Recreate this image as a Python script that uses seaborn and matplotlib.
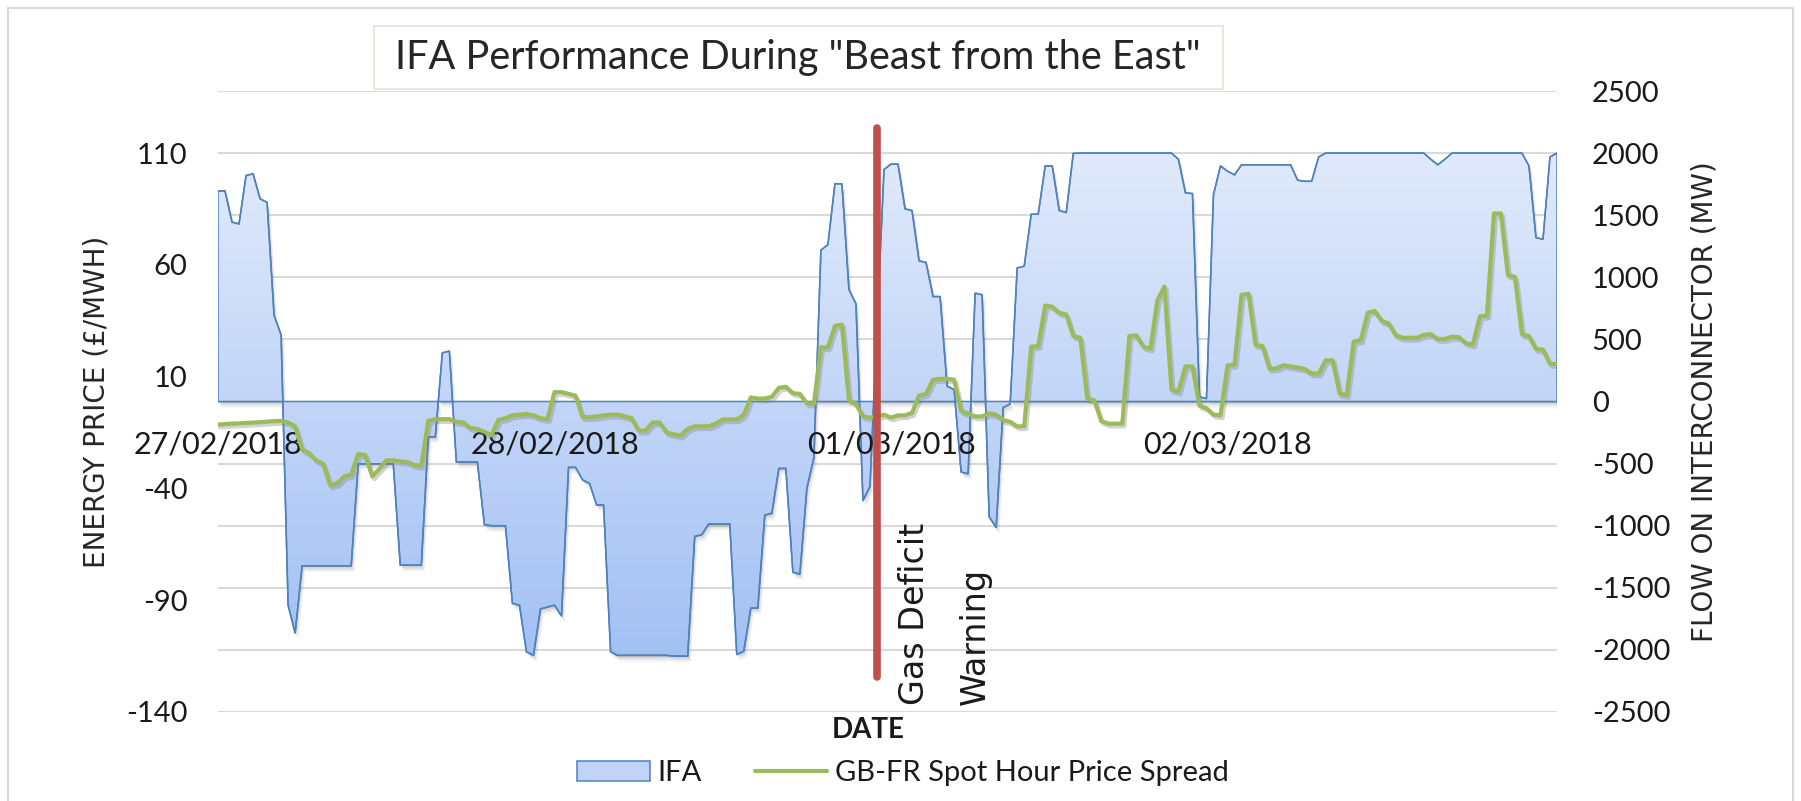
import numpy as np
import pandas as pd
import matplotlib
matplotlib.use("Agg")
import matplotlib.pyplot as plt
import matplotlib.patheffects as pe
import matplotlib.transforms as mtransforms
from matplotlib.colors import LinearSegmentedColormap
from matplotlib.patches import Polygon, Rectangle, Patch
from matplotlib.lines import Line2D
import seaborn as sns

# half-hourly readings, 27/02/2018 00:00 -> 02/03/2018 23:30
ifa_mw = [
    1695, 1695, 1444, 1430, 1819, 1834, 1632, 1603,
    695, 536, -1640, -1865, -1323, -1323, -1323, -1323,
    -1323, -1323, -1323, -1323, -502, -502, -502, -502,
    -502, -502, -1318, -1318, -1318, -1318, -285, -285,
    392, 406, -487, -487, -487, -487, -992, -1000,
    -1000, -1000, -1626, -1640, -2015, -2044, -1670, -1655,
    -1640, -1727, -530, -530, -631, -660, -833, -833,
    -2015, -2044, -2044, -2044, -2044, -2044, -2044, -2044,
    -2044, -2050, -2050, -2050, -1087, -1072, -986, -986,
    -986, -986, -2038, -2010, -1663, -1663, -914, -900,
    -539, -539, -1375, -1390, -698, -453, 1219, 1263,
    1753, 1753, 902, 787, -799, -683, 600, 1868,
    1911, 1911, 1551, 1537, 1133, 1119, 845, 845,
    124, 95, -568, -582, 873, 859, -928, -1015,
    -49, -20, 1075, 1090, 1508, 1508, 1897, 1897,
    1537, 1522, 1998, 2000, 2000, 2000, 2000, 2000,
    2000, 2000, 2000, 2000, 2000, 2000, 2000, 2000,
    2000, 1950, 1680, 1674, 37, 23, 1666, 1897,
    1854, 1825, 1906, 1906, 1906, 1906, 1906, 1906,
    1906, 1906, 1782, 1773, 1773, 1969, 2000, 2000,
    2000, 2000, 2000, 2000, 2000, 2000, 2000, 2000,
    2000, 2000, 2000, 2000, 2000, 1950, 1906, 1950,
    2000, 2000, 2000, 2000, 2000, 2000, 2000, 2000,
    2000, 2000, 2000, 1897, 1320, 1306, 1969, 2000,
]

price_spread = [
    -11.4, -11.2, -11.0, -10.9, -10.7, -10.5, -10.4, -10.1,
    -9.9, -9.8, -10.5, -12.2, -22.6, -24.2, -27.4, -29.0,
    -38.6, -37.8, -34.6, -33.8, -24.6, -25.0, -34.6, -31.4,
    -27.4, -27.4, -27.9, -28.2, -29.5, -29.8, -9.8, -9.0,
    -9.0, -9.0, -10.2, -10.5, -13.0, -13.4, -14.6, -16.2,
    -9.3, -8.6, -7.3, -7.0, -6.7, -7.3, -8.6, -9.0,
    3.1, 3.1, 2.3, 1.5, -8.1, -8.1, -7.8, -7.3,
    -7.0, -7.0, -7.7, -8.6, -14.1, -14.1, -10.5, -10.5,
    -15.0, -15.8, -16.3, -13.4, -12.2, -12.2, -12.2, -11.0,
    -9.1, -9.1, -9.1, -7.0, 0.7, 0.2, 0.2, 1.0,
    5.0, 5.5, 2.6, 2.3, -1.9, -2.2, 23.1, 23.1,
    32.7, 33.3, -0.6, -2.2, -7.8, -8.3, -7.8, -7.0,
    -8.3, -7.3, -7.3, -6.2, 1.6, 2.3, 8.7, 9.0,
    9.0, 8.7, -5.4, -6.5, -7.8, -7.8, -6.4, -7.0,
    -9.4, -10.2, -12.2, -12.2, 23.4, 23.7, 41.8, 41.3,
    38.6, 37.8, 28.2, 27.4, 0.2, -0.6, -9.9, -11.0,
    -11.0, -11.0, 28.2, 28.5, 23.4, 22.6, 44.2, 50.3,
    4.2, 3.4, 14.6, 14.6, -3.0, -4.1, -7.0, -7.3,
    15.1, 15.4, 46.6, 47.1, 24.2, 23.7, 13.5, 13.8,
    15.1, 14.6, 14.1, 13.5, 11.4, 11.4, 17.3, 17.3,
    2.3, 1.8, 25.7, 26.3, 38.6, 39.4, 34.9, 33.8,
    28.5, 27.4, 27.4, 27.4, 28.7, 29.0, 26.9, 26.9,
    27.9, 27.7, 25.0, 24.4, 37.0, 37.3, 83.0, 83.0,
    55.4, 54.6, 29.0, 28.2, 22.4, 22.1, 15.7, 15.7,
]

date_labels = ["27/02/2018", "28/02/2018", "01/03/2018", "02/03/2018"]
date_steps = [0, 48, 96, 144]
price_ticks = [-140, -90, -40, 10, 60, 110]
flow_ticks = list(range(-2500, 2501, 500))
warning_step = 94

df = pd.DataFrame({"step": np.arange(len(ifa_mw)), "IFA": ifa_mw,
                   "Spread": price_spread})

sns.set_theme(style="white")
plt.rcParams["font.family"] = ["Lato", "DejaVu Sans"]
plt.rcParams["text.color"] = "#1a1a1a"
plt.rcParams["axes.unicode_minus"] = False

BLUE = "#4f81bd"
GREEN = "#9bbb59"
RED = "#c0504d"

fig = plt.figure(figsize=(18.01, 8.01), dpi=100)
fig.patches.append(Rectangle((8 / 1801, -0.02), 1785 / 1801, 1.01, transform=fig.transFigure,
                             fc="none", ec="#d9d9d9", lw=1.5))

ax = fig.add_axes([218 / 1801, 89 / 801, 1339 / 1801, 621 / 801])
axp = ax.twinx()
ax.yaxis.tick_right()
ax.yaxis.set_label_position("right")
axp.yaxis.tick_left()
axp.yaxis.set_label_position("left")

# flow axis (area) with a soft drop shadow
x = df["step"].to_numpy()
y = df["IFA"].to_numpy()
verts = np.column_stack([np.r_[x[0], x, x[-1]], np.r_[0, y, 0]])
for k, a in [(1, 0.13), (2, 0.12), (3, 0.10), (4, 0.08), (5, 0.05)]:
    tr = mtransforms.offset_copy(ax.transData, fig=fig, x=k * 0.7, y=-k * 1.3, units="dots")
    ax.add_patch(Polygon(verts, closed=True, fc="#7f7f7f", ec="none", alpha=a,
                         transform=tr, zorder=1))
area = Polygon(verts, closed=True, fc="none", ec=BLUE, lw=1.1, zorder=2)
ax.add_patch(area)
cmap = LinearSegmentedColormap.from_list("ifa_fill", ["#9cbcf3", "#e8effc"])
img = ax.imshow(np.linspace(0, 1, 256).reshape(-1, 1), cmap=cmap, origin="lower",
                extent=[x[0], x[-1], -2500, 2500], aspect="auto", zorder=1.5,
                interpolation="bilinear")
img.set_clip_path(area)
sns.lineplot(data=df, x="step", y="IFA", ax=ax, color=BLUE, lw=1.1, zorder=2.1)

ax.set_xlim(x[0], x[-1])
ax.set_ylim(-2500, 2500)
ax.set_yticks(flow_ticks)
ax.grid(axis="y", color="#d9d9d9", lw=1.5)
ax.grid(axis="x", visible=False)
ax.set_axisbelow(True)
for s in ax.spines.values():
    s.set_visible(False)
ax.spines["bottom"].set_position(("data", 0))
ax.set_xticks(date_steps, date_labels)
ax.xaxis.set_zorder(5)
ax.tick_params(axis="x", length=0, pad=21, labelsize=22, labelcolor="#1a1a1a")
ax.tick_params(axis="y", length=0, pad=25, labelsize=21, labelcolor="#1a1a1a")
ax.set_xlabel("")
ax.set_ylabel("FLOW ON INTERCONNECTOR (MW)", fontsize=20, family="DejaVu Sans",
              color="#262626", va="center")
ax.yaxis.set_label_coords(1.1105, 0.50)

# price axis (line)
sns.lineplot(data=df, x="step", y="Spread", ax=axp, color=GREEN, lw=3, zorder=3,
             path_effects=[pe.SimpleLineShadow(offset=(1.5, -2), shadow_color="#808080",
                                               alpha=0.35), pe.Normal()])
axp.set_ylim(-140, 137.8)
axp.set_yticks(price_ticks)
axp.tick_params(axis="y", length=0, pad=22, labelsize=21, labelcolor="#1a1a1a")
for s in axp.spines.values():
    s.set_visible(False)
axp.set_xlabel("")
axp.set_ylabel("ENERGY PRICE (£/MWH)", fontsize=20, family="DejaVu Sans",
               color="#262626", va="center")
axp.yaxis.set_label_coords(-0.091, 0.50)

axp.axvline(warning_step, ymin=0.056, ymax=0.94, color=RED, lw=5.5, zorder=6)
xt = axp.get_xaxis_transform()
axp.text(warning_step + 5.3, 0.011, "Gas Deficit", rotation=90, ha="center", va="bottom",
         fontsize=24, family="DejaVu Sans", transform=xt, zorder=7)
axp.text(warning_step + 14, 0.011, "Warning", rotation=90, ha="center", va="bottom",
         fontsize=24, family="DejaVu Sans", transform=xt, zorder=7)

# title box
fig.patches.append(Rectangle((374 / 1801, 1 - 89 / 801), 849 / 1801, 63 / 801,
                             transform=fig.transFigure, fc="white", ec="#e4e4da", lw=1.2))
fig.text(798 / 1801, 1 - 58 / 801, 'IFA Performance During "Beast from the East"',
         ha="center", va="center", fontsize=28.5, color="#262626")

fig.text(868 / 1801, 1 - 730 / 801, "DATE", ha="center", va="center", fontsize=20,
         fontweight="bold")

handles = [Patch(fc="#bfd4f8", ec=BLUE, lw=1.1, label="IFA"),
           Line2D([], [], color=GREEN, lw=3, label="GB-FR Spot Hour Price Spread")]
fig.legend(handles=handles, loc="center", bbox_to_anchor=(903 / 1801, 1 - 773 / 801),
           ncol=2, frameon=False, fontsize=21, handlelength=2.5, handleheight=0.7,
           handletextpad=0.25, columnspacing=1.8)

fig.savefig("out.png", dpi=100)
